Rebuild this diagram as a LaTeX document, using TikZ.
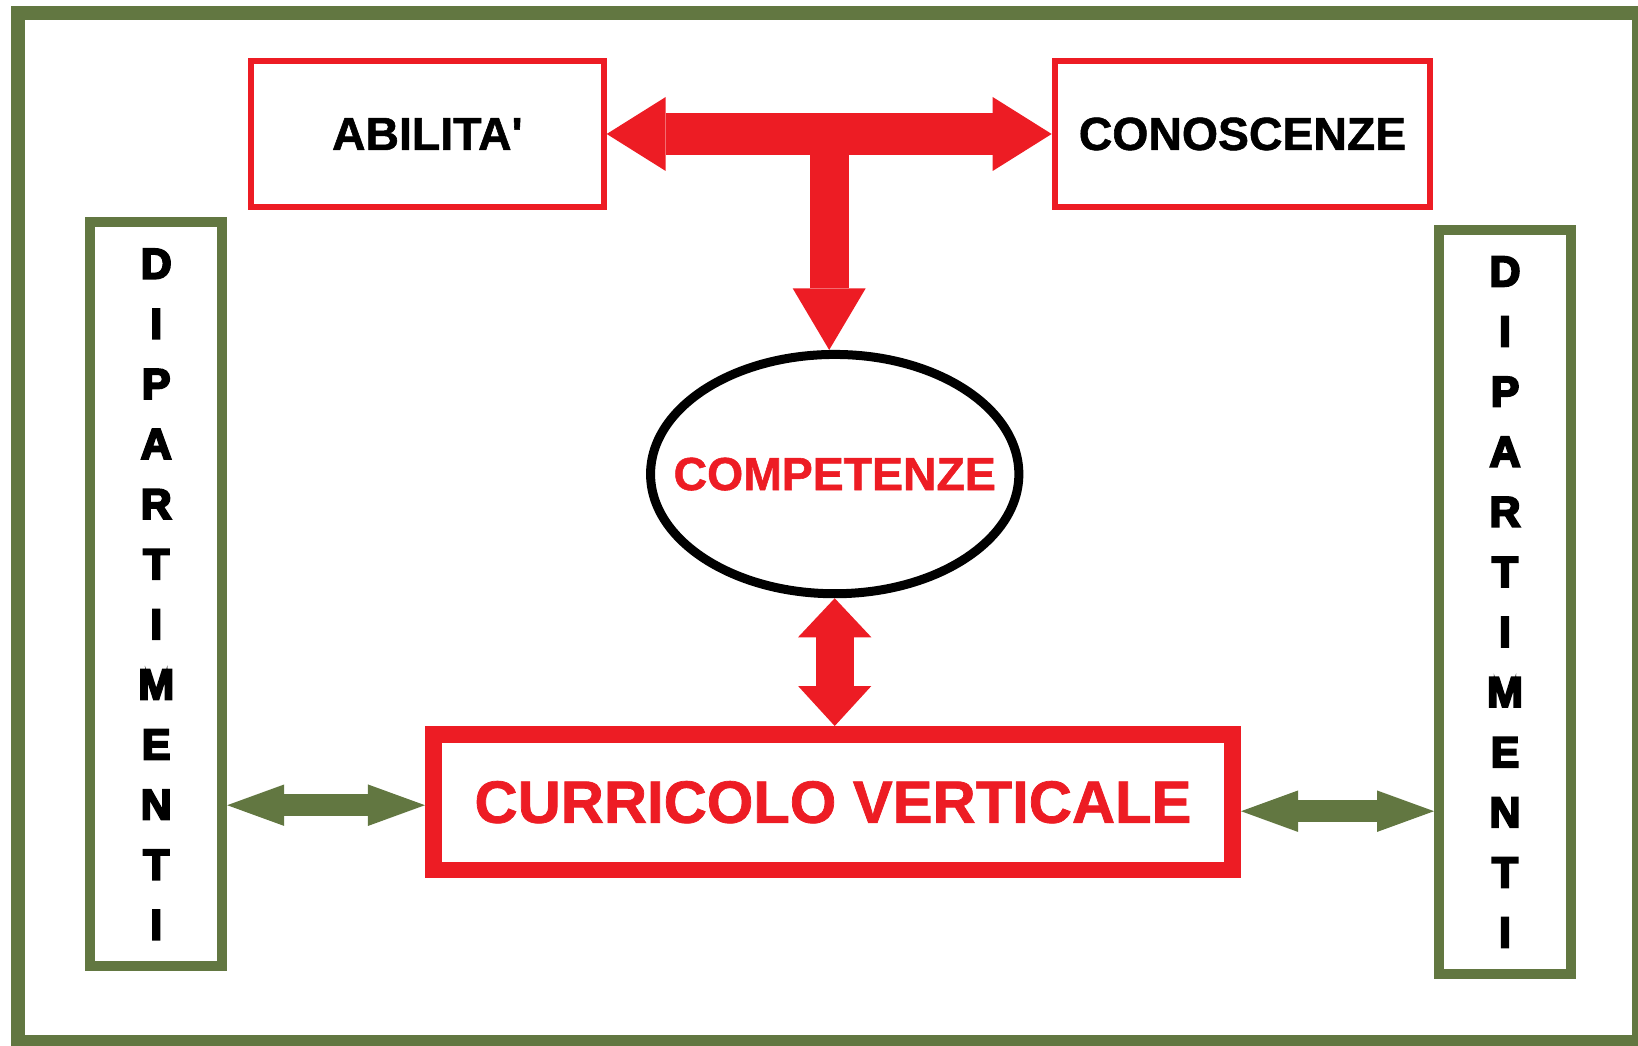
\documentclass[tikz,border=0pt]{standalone}
\usepackage{fontspec}
\setmainfont{Liberation Sans}
\newfontfamily\heavyfont{Liberation Sans}[UprightFont={* Bold},FakeBold=1.2]
\newfontfamily\blackfont{Liberation Sans}[UprightFont={* Bold},FakeBold=5]
\usetikzlibrary{arrows.meta,shapes.geometric,calc}
\definecolor{paintred}{RGB}{237,28,36}
\definecolor{olivegreen}{RGB}{98,119,65}
\tikzset{
	redbox/.style={draw=paintred,line width=0.06cm,minimum height=1.455cm,inner sep=0pt,font=\fontsize{13.2}{16}\selectfont\heavyfont},
	deptbox/.style={draw=olivegreen,line width=0.1cm,minimum width=1.32cm,minimum height=7.44cm,inner sep=0pt,align=center,font=\fontsize{12.2}{17.1}\selectfont\blackfont},
	tarrow/.style={paintred,line width=0.416cm,{Triangle[length=0.59cm,width=0.74cm,line width=0pt]}-{Triangle[length=0.59cm,width=0.74cm,line width=0pt]}},
	stemarrow/.style={paintred,line width=0.39cm,-{Triangle[length=0.616cm,width=0.73cm,line width=0pt]}},
	linkarrow/.style={paintred,line width=0.383cm,{Triangle[length=0.39cm,width=0.733cm,line width=0pt]}-{Triangle[length=0.4cm,width=0.733cm,line width=0pt]}},
	deptarrow/.style={olivegreen,line width=0.22cm,{Triangle[length=0.57cm,width=0.415cm,line width=0pt]}-{Triangle[length=0.57cm,width=0.415cm,line width=0pt]}}
}
\begin{document}
\begin{tikzpicture}[
	compell/.style={ellipse,draw=black,line width=0.09cm,minimum width=3.683cm,minimum height=2.393cm,inner sep=0pt},
	comptext/.style={text=paintred,font=\fontsize{13.2}{16}\selectfont\heavyfont},
	currbox/.style={draw=paintred,line width=0.167cm,minimum width=7.994cm,minimum height=1.357cm,inner sep=0pt,text=paintred,font=\fontsize{17}{20}\selectfont\heavyfont}]
	\useasboundingbox (0,0) rectangle (16.38,10.45);
	\draw[olivegreen,line width=0.145cm] (0.18,10.322) rectangle (16.39,0.028);
	\node[redbox,minimum width=3.528cm] (abil) at (4.273,9.11) {ABILITA\textquotesingle};
	\node[redbox,minimum width=3.757cm] (conos) at (12.425,9.11) {CONOSCENZE};
	\node[compell,label={[comptext]center:COMPETENZE}] (comp) at (8.347,5.709) {};
	\node[currbox] (curr) at (8.33,2.428) {CURRICOLO VERTICALE};
	\node[deptbox] (dipL) at (1.562,4.507) {D\\I\\P\\A\\R\\T\\I\\M\\E\\N\\T\\I};
	\node[deptbox] (dipR) at (15.05,4.43) {D\\I\\P\\A\\R\\T\\I\\M\\E\\N\\T\\I};
	\coordinate (tmid) at ($(abil.east)!0.5!(conos.west)$);
	\draw[tarrow] (abil.east) -- (conos.west);
	\draw[stemarrow] (tmid) -- (tmid |- comp.north);
	\draw[linkarrow] (comp.south) -- (comp.south |- curr.north);
	\draw[deptarrow] ([yshift=-0.03cm]curr.west) -- ([yshift=-0.03cm]curr.west -| dipL.east);
	\draw[deptarrow] ([yshift=-0.09cm]curr.east) -- ([yshift=-0.09cm]curr.east -| dipR.west);
\end{tikzpicture}
\end{document}
